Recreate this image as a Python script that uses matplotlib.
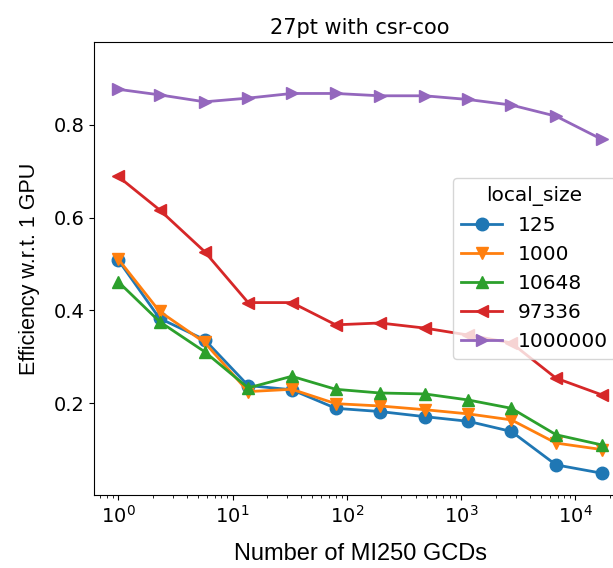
import numpy as np
import matplotlib
matplotlib.use("Agg")
import matplotlib.pyplot as plt

# number of GCDs
gcds = [1, 2.3, 5.7, 13.7, 33, 80, 195, 480, 1150, 2750, 6760, 17000]

local_sizes = ['125', '1000', '10648', '97336', '1000000']
eff_125 = [0.509, 0.383, 0.337, 0.238, 0.229, 0.189, 0.182, 0.171, 0.161, 0.139, 0.067, 0.049]
eff_1000 = [0.511, 0.398, 0.331, 0.225, 0.230, 0.199, 0.194, 0.186, 0.177, 0.164, 0.114, 0.100]
eff_10648 = [0.462, 0.376, 0.311, 0.233, 0.258, 0.230, 0.222, 0.220, 0.207, 0.189, 0.132, 0.110]
eff_97336 = [0.689, 0.617, 0.527, 0.417, 0.417, 0.369, 0.373, 0.362, 0.347, 0.330, 0.254, 0.218]
eff_1000000 = [0.877, 0.865, 0.850, 0.858, 0.868, 0.868, 0.863, 0.863, 0.855, 0.843, 0.819, 0.769]

series = [eff_125, eff_1000, eff_10648, eff_97336, eff_1000000]
markers = ['o', 'v', '^', '<', '>']

fig = plt.figure(figsize=(6.13, 5.68), dpi=100)
# axes runs past the right edge, like the cropped original
ax = fig.add_axes([94/613, 73/568, 532/613, 453/568])

for lab, vals, m in zip(local_sizes, series, markers):
    ax.plot(gcds, vals, marker=m, markersize=9, linewidth=2, label=lab)

ax.set_xscale('log')
ax.set_ylim(0.002, 0.979)
ax.set_yticks([0.2, 0.4, 0.6, 0.8])
ax.tick_params(labelsize=14)

legend = ax.legend(title='local_size', loc='center right', fontsize=14.5, title_fontsize=14.5)

ax.set_title('27pt with csr-coo', fontsize=15)
ax.set_xlabel('Number of MI250 GCDs', fontsize=17, family='Liberation Sans', labelpad=12)
ax.set_ylabel('Efficiency w.r.t. 1 GPU', fontsize=15.5, family='Liberation Sans', labelpad=10)

fig.savefig('out.png', dpi=100)
